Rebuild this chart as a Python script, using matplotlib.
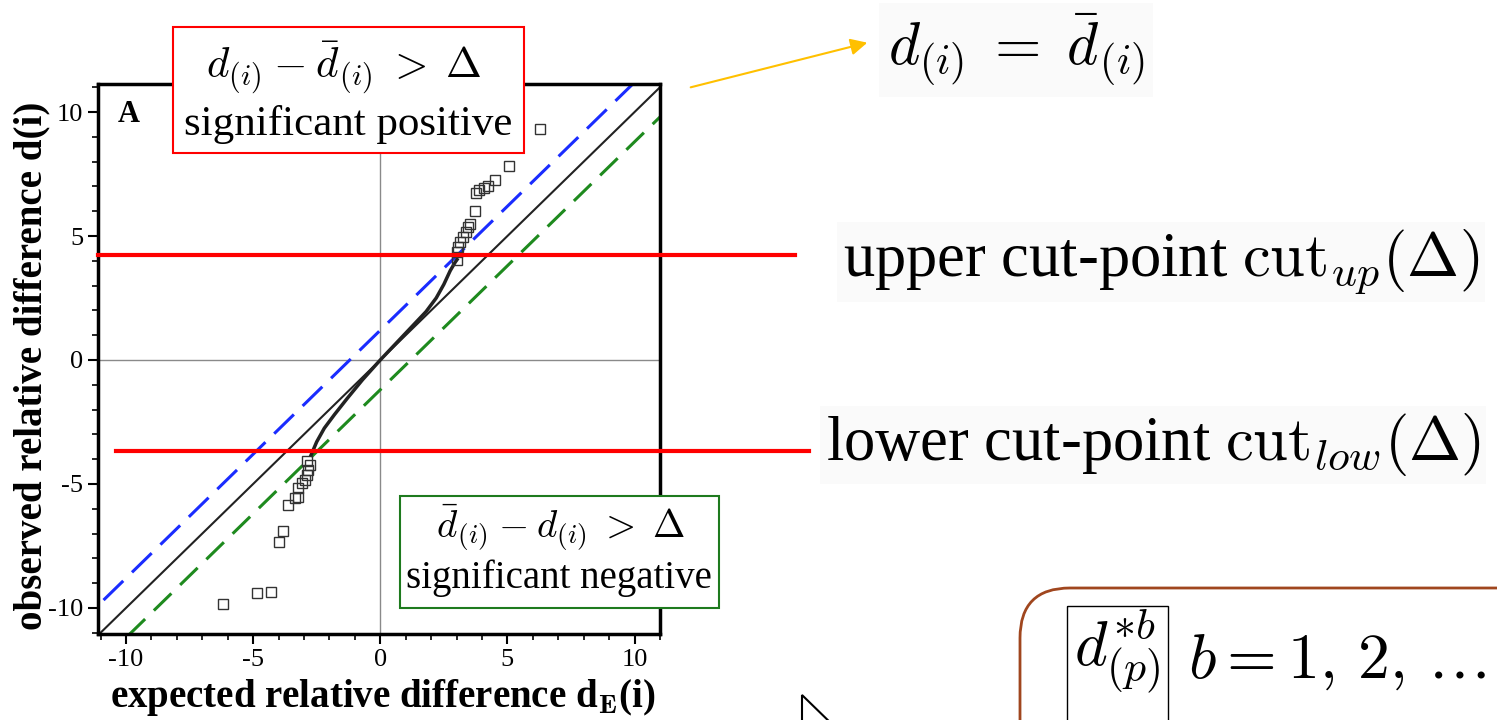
import numpy as np
import matplotlib.pyplot as plt
from matplotlib.ticker import MultipleLocator
from matplotlib.patches import Rectangle, FancyBboxPatch, Polygon, FancyArrowPatch
from matplotlib.transforms import Affine2D

plt.rcParams['font.family'] = ['Liberation Serif', 'DejaVu Serif']
plt.rcParams['mathtext.fontset'] = 'cm'
plt.rcParams['axes.unicode_minus'] = False

W, H = 1497, 720

# valeurs
ticks = [-10, -5, 0, 5, 10]
diag = np.array([-12.0, 12.0])
delta = 1.2
cut_up = 4.23
cut_low = -3.67
up_x = [-11.1, 16.3]
low_x = [-10.4, 16.85]

curve_x = [-2.72, -2.5, -2.2, -1.8, -1.3, -0.7, 0.0, 0.6, 1.2, 1.8, 2.2, 2.5, 2.75, 2.95, 3.02]
curve_y = [-3.83, -3.3, -2.75, -2.2, -1.55, -0.8, 0.0, 0.65, 1.3, 1.95, 2.5, 3.05, 3.6, 3.95, 4.05]

pos_x = [3.02, 3.02, 3.07, 3.15, 3.27, 3.39, 3.46, 3.54, 3.74, 3.78, 3.87, 4.06, 4.24, 4.53, 5.08, 6.3]
pos_y = [4.03, 4.37, 4.57, 4.77, 4.97, 5.17, 5.35, 5.5, 6.0, 6.73, 6.85, 6.92, 7.02, 7.26, 7.83, 9.3]
neg_x = [-6.17, -4.83, -4.29, -3.98, -3.81, -3.63, -3.35, -3.23, -3.24, -3.08, -2.95, -2.89, -2.85, -2.76, -2.89]
neg_y = [-9.84, -9.41, -9.34, -7.33, -6.90, -5.85, -5.58, -5.51, -5.17, -4.97, -4.84, -4.64, -4.44, -4.23, -4.06]

fig = plt.figure(figsize=(W / 100, H / 100), dpi=100)
# coordonnees en pixels (origine en haut a gauche)
px = Affine2D().scale(1 / W, -1 / H).translate(0, 1) + fig.transFigure

ax = fig.add_axes([98 / W, 1 - 634 / H, (660 - 98) / W, (634 - 84) / H])
ax.axhline(0, color='#8a8a8a', lw=1)
ax.axvline(0, color='#8a8a8a', lw=1)
ax.plot(diag, diag, color='#222222', lw=1.5)
ax.plot(diag, diag + delta, color='#1a2cff', lw=2.2, dashes=(9, 4))
ax.plot(diag, diag - delta, color='#1e8a1e', lw=2.2, dashes=(8, 4))
ax.plot(curve_x, curve_y, color='#222222', lw=2.5)
ax.plot(pos_x, pos_y, 's', mfc='none', mec='#333333', ms=6.5, mew=1)
ax.plot(neg_x, neg_y, 's', mfc='none', mec='#333333', ms=6.5, mew=1)
ax.plot(up_x, [cut_up, cut_up], color='red', lw=3, clip_on=False, zorder=5)
ax.plot(low_x, [cut_low, cut_low], color='red', lw=3, clip_on=False, zorder=5)

ax.set_xlim(-11.1, 11.0)
ax.set_ylim(-11.05, 11.13)
ax.set_xticks(ticks)
ax.set_yticks(ticks)
ax.xaxis.set_minor_locator(MultipleLocator(1))
ax.yaxis.set_minor_locator(MultipleLocator(1))
ax.tick_params(which='major', direction='out', length=7, width=1.5, labelsize=19)
ax.tick_params(which='minor', direction='out', length=4, width=1.2)
for s in ax.spines.values():
    s.set_linewidth(2.5)

fig.text(32, 366, 'observed relative difference d(i)', transform=px, rotation=90,
         fontsize=28, fontweight='bold', ha='center', va='center')
fig.text(383, 697, r'expected relative difference d$_\mathbf{E}$(i)', transform=px,
         fontsize=28, fontweight='bold', ha='center', va='center')
fig.text(118, 115, 'A', transform=px, fontsize=22, fontweight='bold', ha='left', va='center')

# encadre rouge
fig.add_artist(Rectangle((173, 27), 351, 126, transform=px, fc='white', ec='red', lw=1.5, zorder=2))
fig.text(344, 68, r'$d_{(i)}\:-\:\bar{d}_{(i)}\;>\;\Delta$', transform=px, fontsize=31,
         ha='center', va='center')
fig.text(348, 124, 'significant positive', transform=px, fontsize=31, ha='center', va='center')

# encadre vert
fig.add_artist(Rectangle((400, 496), 319, 112, transform=px, fc='white', ec='#1e7a1e', lw=1.5, zorder=2))
fig.text(560, 528, r'$\bar{d}_{(i)}\:-\:d_{(i)}\;>\;\Delta$', transform=px, fontsize=28,
         ha='center', va='center')
fig.text(559, 578, 'significant negative', transform=px, fontsize=28, ha='center', va='center')

# formule et fleche jaune
fig.text(1016, 50, r'$d_{(i)}\;=\;\bar{d}_{(i)}$', transform=px, fontsize=43, ha='center', va='center',
         bbox=dict(fc='#fafafa', ec='none', pad=6))
fig.add_artist(FancyArrowPatch((688, 88), (870, 42), transform=px, arrowstyle='-|>',
                               mutation_scale=25, color='#FFC000', lw=1.5))

fig.text(843, 262, r'upper cut-point $\mathrm{cut}_{up}(\Delta)$', transform=px, fontsize=45,
         ha='left', va='center', bbox=dict(fc='#fafafa', ec='none', pad=4))
fig.text(826, 445, r'lower cut-point $\mathrm{cut}_{low}(\Delta)$', transform=px, fontsize=45,
         ha='left', va='center', bbox=dict(fc='#fafafa', ec='none', pad=4))

# cadre arrondi en bas a droite
fig.add_artist(FancyBboxPatch((1020, 588), 600, 300, boxstyle='round,pad=0,rounding_size=50',
                              transform=px, fc='white', ec='#a0461e', lw=2))
fig.add_artist(Rectangle((1067, 606), 101, 200, transform=px, fc='none', ec='black', lw=1))
fig.text(1117, 652, r'$d^{*b}_{(p)}$', transform=px, fontsize=45, ha='center', va='center')
fig.text(1188, 662, r'$b=1,\,2,\,\ldots$', transform=px, fontsize=46, ha='left', va='center')

# curseur
fig.add_artist(Polygon([(802, 695), (802, 730), (838, 730)], closed=True, transform=px,
                       fc='white', ec='black', lw=1.5))

fig.savefig('out.png', dpi=100)
